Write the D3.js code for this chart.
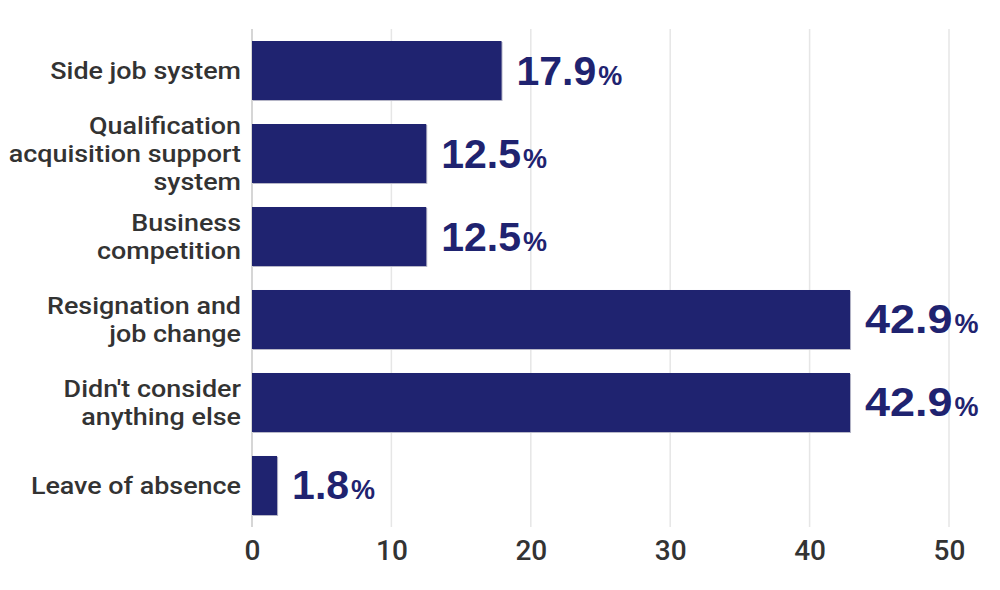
<!DOCTYPE html>
<html>
<head>
<meta charset="utf-8">
<script src="https://cdn.jsdelivr.net/npm/d3@7"></script>
<style>
  body { margin: 0; background: #fff; }
  svg { display: block; font-family: Roboto, "Liberation Sans", Arial, sans-serif; }
</style>
</head>
<body>
<div id="chart"></div>
<script>
// chart data
const categories = [
    "Side job system",
    "Qualification\nacquisition support\nsystem",
    "Business\ncompetition",
    "Resignation and\njob change",
    "Didn't consider\nanything else",
    "Leave of absence"
];
const values = [17.9, 12.5, 12.5, 42.9, 42.9, 1.8];
const xTicks = [0, 10, 20, 30, 40, 50];

const W = 1000, H = 590;
const navy = "#1f2370";

const svg = d3.select("#chart").append("svg")
    .attr("width", W)
    .attr("height", H);

// scales
const x = d3.scaleLinear().domain([0, 50]).range([252, 949]);
const y = d3.scaleBand()
    .domain(categories)
    .range([29, 527])
    .paddingInner(0.289)
    .paddingOuter(0.1446);

// gridlines
svg.append("g")
    .selectAll("line")
    .data(xTicks)
    .enter()
    .append("line")
    .attr("x1", d => x(d))
    .attr("x2", d => x(d))
    .attr("y1", 29)
    .attr("y2", 527)
    .attr("stroke", d => d === 0 ? "#c8c8c8" : "#e6e6e6")
    .attr("stroke-width", 1.5);

// x axis labels
const xAxis = svg.append("g")
    .attr("transform", "translate(0,527)")
    .call(d3.axisBottom(x).tickValues(xTicks).tickSize(0).tickPadding(13));
xAxis.select(".domain").remove();
xAxis.selectAll("text")
    .attr("dy", "0.71em")
    .style("font-size", "28px")
    .style("font-weight", "500")
    .style("font-family", "Roboto, sans-serif")
    .style("fill", "#333");

const rows = categories.map((c, i) => ({ cat: c, value: values[i] }));

// bar shadow
svg.selectAll(".shadow")
    .data(rows)
    .enter()
    .append("rect")
    .attr("x", x(0) + 1)
    .attr("y", d => y(d.cat) + 1)
    .attr("width", d => x(d.value) - x(0))
    .attr("height", y.bandwidth())
    .attr("fill", "#b8b8c8");

// bars
svg.selectAll(".bar")
    .data(rows)
    .enter()
    .append("rect")
    .attr("class", "bar")
    .attr("x", x(0))
    .attr("y", d => y(d.cat))
    .attr("width", d => x(d.value) - x(0))
    .attr("height", y.bandwidth())
    .attr("fill", navy);

// rough glyph widths of the original label font
const numWidth = s => s.split("").reduce((w, ch) => w + (ch === "1" ? 14 : ch === "." ? 11 : 25.5), 0);

// value labels: number + smaller percent sign
const nums = svg.selectAll(".val")
    .data(rows)
    .enter()
    .append("text")
    .attr("class", "val")
    .attr("x", d => x(d.value) + 15)
    .attr("y", d => y(d.cat) + y.bandwidth() / 2 + 14)
    .attr("fill", navy)
    .style("font-family", "Liberation Sans, Arial, sans-serif")
    .style("font-weight", "bold")
    .style("font-size", "41px")
    .text(d => d.value.toFixed(1));

nums.each(function (d) {
    const natural = this.getComputedTextLength();
    d.w = Math.max(natural, numWidth(d.value.toFixed(1)));
    d3.select(this)
        .attr("lengthAdjust", "spacingAndGlyphs")
        .attr("textLength", d.w);
});

svg.selectAll(".pct")
    .data(rows)
    .enter()
    .append("text")
    .attr("class", "pct")
    .attr("x", d => x(d.value) + 15 + d.w + 2)
    .attr("y", d => y(d.cat) + y.bandwidth() / 2 + 14)
    .attr("fill", navy)
    .style("font-family", "Liberation Sans, Arial, sans-serif")
    .style("font-weight", "bold")
    .style("font-size", "27px")
    .text("%");

// category labels, one text per line, widened a little to match the original face
const lh = 28;
rows.forEach(d => {
    const lines = d.cat.split("\n");
    const cy = y(d.cat) + y.bandwidth() / 2;
    const top = cy - (lines.length - 1) * lh / 2 + 8.5;
    lines.forEach((line, i) => {
        const t = svg.append("text")
            .attr("class", "cat")
            .attr("text-anchor", "end")
            .attr("x", 241)
            .attr("y", top + i * lh)
            .attr("fill", "#333")
            .style("font-size", "24px")
            .style("font-weight", "500")
            .text(line);
        const w = t.node().getComputedTextLength();
        t.attr("lengthAdjust", "spacingAndGlyphs").attr("textLength", w * 1.12);
    });
});
</script>
</body>
</html>
